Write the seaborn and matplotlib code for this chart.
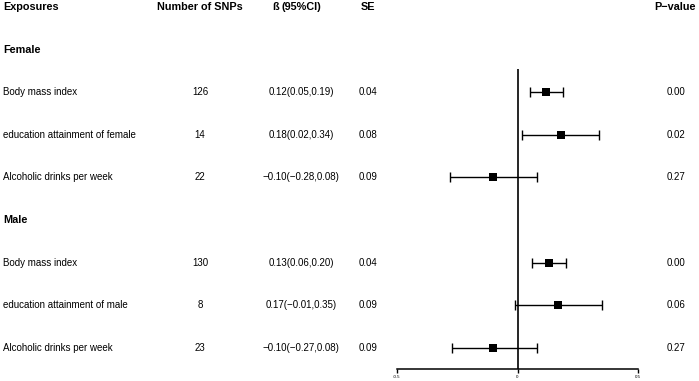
import matplotlib
matplotlib.use("Agg")
import matplotlib.pyplot as plt
import matplotlib.transforms as mtransforms
import seaborn as sns
import pandas as pd
import numpy as np

sns.set_theme(style="white")
plt.rcParams['font.family'] = ['Liberation Sans']
plt.rcParams['text.color'] = 'black'

# ---- data ----
groups = ["Female", "Male"]
exposures = ["Body mass index", "education attainment of female", "Alcoholic drinks per week",
             "Body mass index", "education attainment of male", "Alcoholic drinks per week"]
group_of = ["Female", "Female", "Female", "Male", "Male", "Male"]
n_snps = [126, 14, 22, 130, 8, 23]
beta = [0.12, 0.18, -0.10, 0.13, 0.17, -0.10]
ci_low = [0.05, 0.02, -0.28, 0.06, -0.01, -0.27]
ci_high = [0.19, 0.34, 0.08, 0.20, 0.35, 0.08]
se = [0.04, 0.08, 0.09, 0.04, 0.09, 0.09]
pval = [0.00, 0.02, 0.27, 0.00, 0.06, 0.27]
headers = ["Exposures", "Number of SNPs", "\u00df(95%CI)", "SE", "P\u2212value"]
xticks = [-0.5, 0, 0.5]
xtick_labels = ["-0.5", "0", "0.5"]

# row layout: header row 0, group label rows, then items
rows = []
r = 1
for g in groups:
    rows.append(("group", g, r))
    r += 1
    for i, gg in enumerate(group_of):
        if gg == g:
            rows.append(("item", i, r))
            r += 1
item_row = {}
for kind, v, rr in rows:
    if kind == "item":
        item_row[v] = rr

df = pd.DataFrame({
    "exposure": exposures, "beta": beta, "lo": ci_low, "hi": ci_high,
    "row": [item_row[i] for i in range(len(exposures))],
})

W, H = 699, 381
fig = plt.figure(figsize=(W / 100, H / 100), dpi=100)
row0_px, step_px = 7.0, 42.6
axis_px = 369
ax = fig.add_axes([397 / W, (H - axis_px) / H, (638 - 397) / W, axis_px / H])
ax.set_xlim(-0.5, 0.5)
ax.set_ylim((axis_px - row0_px) / step_px, -row0_px / step_px)

# CI lines
ax.errorbar(df["beta"], df["row"],
            xerr=[df["beta"] - df["lo"], df["hi"] - df["beta"]],
            fmt="none", ecolor="black", elinewidth=1.0, capsize=3.3, capthick=1.0, zorder=2)
sns.scatterplot(data=df, x="beta", y="row", marker="s", s=30, color="black",
                edgecolor="black", linewidth=0, ax=ax, zorder=3, legend=False)
ax.vlines(0, (69 - row0_px) / step_px, (axis_px - row0_px) / step_px, color="black", lw=1.2, zorder=1)

for s in ["top", "right", "left"]:
    ax.spines[s].set_visible(False)
ax.spines["bottom"].set_color("black")
ax.spines["bottom"].set_linewidth(1.1)
ax.set_xticks(xticks)
ax.set_xticklabels(xtick_labels, fontsize=3.2, color="black")
ax.tick_params(axis="x", direction="out", length=3, width=1.0, color="black", pad=1.5, bottom=True)
ax.set_yticks([])
ax.set_xlabel("")
ax.set_ylabel("")
ax.patch.set_alpha(0)

tr = mtransforms.blended_transform_factory(fig.transFigure, ax.transData)
hkw = dict(transform=tr, va="center", fontsize=7.8, fontweight="bold", color="black", clip_on=False)
ax.text(3 / W, 0, headers[0], ha="left", **hkw)
ax.text(200 / W, 0, headers[1], ha="center", **hkw)
# beta header: sharp-s drawn separately to avoid glyph overlap
ax.text(279 / W, 0, headers[2][0], ha="right", **hkw)
ax.text(281 / W, 0, headers[2][1:], ha="left", **hkw)
ax.text(368 / W, 0, headers[3], ha="center", **hkw)
ax.text(675 / W, 0, headers[4], ha="center", **hkw)

for kind, v, rr in rows:
    if kind == "group":
        ax.text(3 / W, rr, v, ha="left", **hkw)
    else:
        i = v
        kw = dict(transform=tr, va="center", fontsize=7, color="black", clip_on=False)
        ax.text(3 / W, rr, exposures[i], ha="left", **kw)
        ax.text(200 / W, rr, str(n_snps[i]), ha="center", **kw)
        txt = f"{beta[i]:.2f}({ci_low[i]:.2f},{ci_high[i]:.2f})".replace("-", "\u2212")
        ax.text(301 / W, rr, txt, ha="center", **kw)
        ax.text(368 / W, rr, f"{se[i]:.2f}", ha="center", **kw)
        ax.text(676 / W, rr, f"{pval[i]:.2f}", ha="center", **kw)

fig.savefig("out.png", dpi=100, facecolor="white")
